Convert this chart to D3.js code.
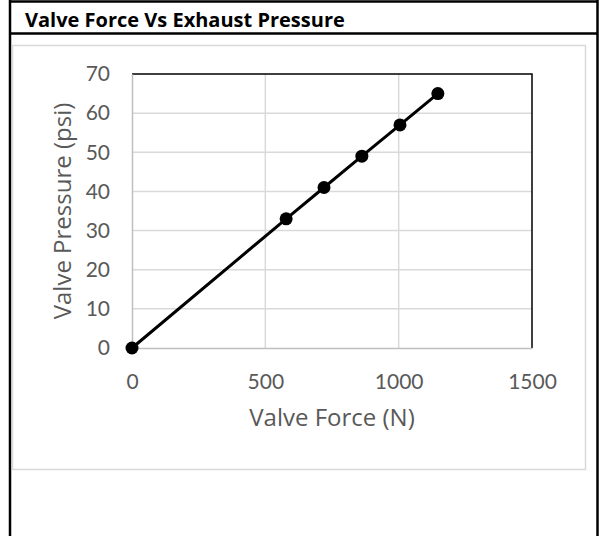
<!DOCTYPE html>
<html>
<head>
<meta charset="utf-8">
<script src="https://cdn.jsdelivr.net/npm/d3@7"></script>
<style>
  html, body { margin: 0; padding: 0; background: #fff; }
  svg { display: block; font-family: Lato, "Open Sans", sans-serif; }
</style>
</head>
<body>
<div id="chart"></div>
<script>
// CONSTANTS
const WIDTH = 602;
const HEIGHT = 536;

// data
const force = [0, 578, 720, 862, 1005, 1147];
const pressure = [0, 33, 41, 49, 57, 65];
const xTicks = [0, 500, 1000, 1500];
const yTicks = [0, 10, 20, 30, 40, 50, 60, 70];

const title = "Valve Force Vs Exhaust Pressure";
const xLabel = "Valve Force (N)";
const yLabel = "Valve Pressure (psi)";

const plot = { left: 132, right: 532, top: 74, bottom: 348 };

const svg = d3.select("#chart")
  .append("svg")
  .attr("width", WIDTH)
  .attr("height", HEIGHT);

// table frame around the chart
const frame = svg.append("g").attr("stroke", "#000").attr("stroke-width", 2.5);
frame.append("line").attr("x1", 10).attr("x2", 10).attr("y1", 0).attr("y2", HEIGHT);
frame.append("line").attr("x1", 597.5).attr("x2", 597.5).attr("y1", 0).attr("y2", HEIGHT);
frame.append("line").attr("x1", 10).attr("x2", 597.5).attr("y1", 1.5).attr("y2", 1.5);
frame.append("line").attr("x1", 10).attr("x2", 597.5).attr("y1", 33.5).attr("y2", 33.5);

svg.append("text")
  .attr("x", 25)
  .attr("y", 27)
  .attr("font-family", "'Open Sans', sans-serif")
  .attr("font-weight", "bold")
  .attr("font-size", 20)
  .attr("fill", "#000")
  .text(title);

// chart area border
svg.append("rect")
  .attr("x", 12.5)
  .attr("y", 45.5)
  .attr("width", 573)
  .attr("height", 424)
  .attr("fill", "#fff")
  .attr("stroke", "#d9d9d9")
  .attr("stroke-width", 1.5);

const x = d3.scaleLinear().domain([0, 1500]).range([plot.left, plot.right]);
const y = d3.scaleLinear().domain([0, 70]).range([plot.bottom, plot.top]);

// gridlines
svg.append("g")
  .attr("stroke", "#d9d9d9")
  .attr("stroke-width", 1.5)
  .selectAll("line.h")
  .data(yTicks.slice(1, -1))
  .join("line")
  .attr("x1", plot.left).attr("x2", plot.right)
  .attr("y1", d => y(d)).attr("y2", d => y(d));

svg.append("g")
  .attr("stroke", "#d9d9d9")
  .attr("stroke-width", 1.5)
  .selectAll("line.v")
  .data(xTicks.slice(1, -1))
  .join("line")
  .attr("x1", d => x(d)).attr("x2", d => x(d))
  .attr("y1", plot.top).attr("y2", plot.bottom);

// plot border: black top and right, gray axes left and bottom
svg.append("path")
  .attr("d", `M${plot.left},${plot.top}H${plot.right}V${plot.bottom}`)
  .attr("fill", "none")
  .attr("stroke", "#000")
  .attr("stroke-width", 1.5);

const xAxis = svg.append("g")
  .attr("transform", `translate(0,${plot.bottom})`)
  .call(d3.axisBottom(x).tickValues(xTicks).tickFormat(d3.format("d")).tickSize(0).tickPadding(26));
xAxis.select(".domain").attr("stroke", "#bfbfbf").attr("stroke-width", 1.5);
xAxis.selectAll("text")
  .attr("font-size", 21)
  .attr("font-family", "Lato, sans-serif")
  .attr("fill", "#595959");

const yAxis = svg.append("g")
  .attr("transform", `translate(${plot.left},0)`)
  .call(d3.axisLeft(y).tickValues(yTicks).tickFormat(d3.format("d")).tickSize(0).tickPadding(22));
yAxis.select(".domain").attr("stroke", "#bfbfbf").attr("stroke-width", 1.5);
yAxis.selectAll("text")
  .attr("font-size", 21)
  .attr("font-family", "Lato, sans-serif")
  .attr("fill", "#595959");

// axis titles
svg.append("text")
  .attr("x", (plot.left + plot.right) / 2)
  .attr("y", 426)
  .attr("text-anchor", "middle")
  .attr("font-family", "'Open Sans', sans-serif")
  .attr("font-size", 24)
  .attr("fill", "#595959")
  .text(xLabel);

svg.append("text")
  .attr("transform", `translate(71,${(plot.top + plot.bottom) / 2}) rotate(-90)`)
  .attr("text-anchor", "middle")
  .attr("font-family", "'Open Sans', sans-serif")
  .attr("font-size", 24)
  .attr("fill", "#595959")
  .text(yLabel);

// series
const points = force.map((f, i) => [f, pressure[i]]);

svg.append("path")
  .datum(points)
  .attr("d", d3.line().x(d => x(d[0])).y(d => y(d[1])))
  .attr("fill", "none")
  .attr("stroke", "#000")
  .attr("stroke-width", 3);

svg.append("g")
  .selectAll("circle")
  .data(points)
  .join("circle")
  .attr("cx", d => x(d[0]))
  .attr("cy", d => y(d[1]))
  .attr("r", 6.5)
  .attr("fill", "#000");
</script>
</body>
</html>
